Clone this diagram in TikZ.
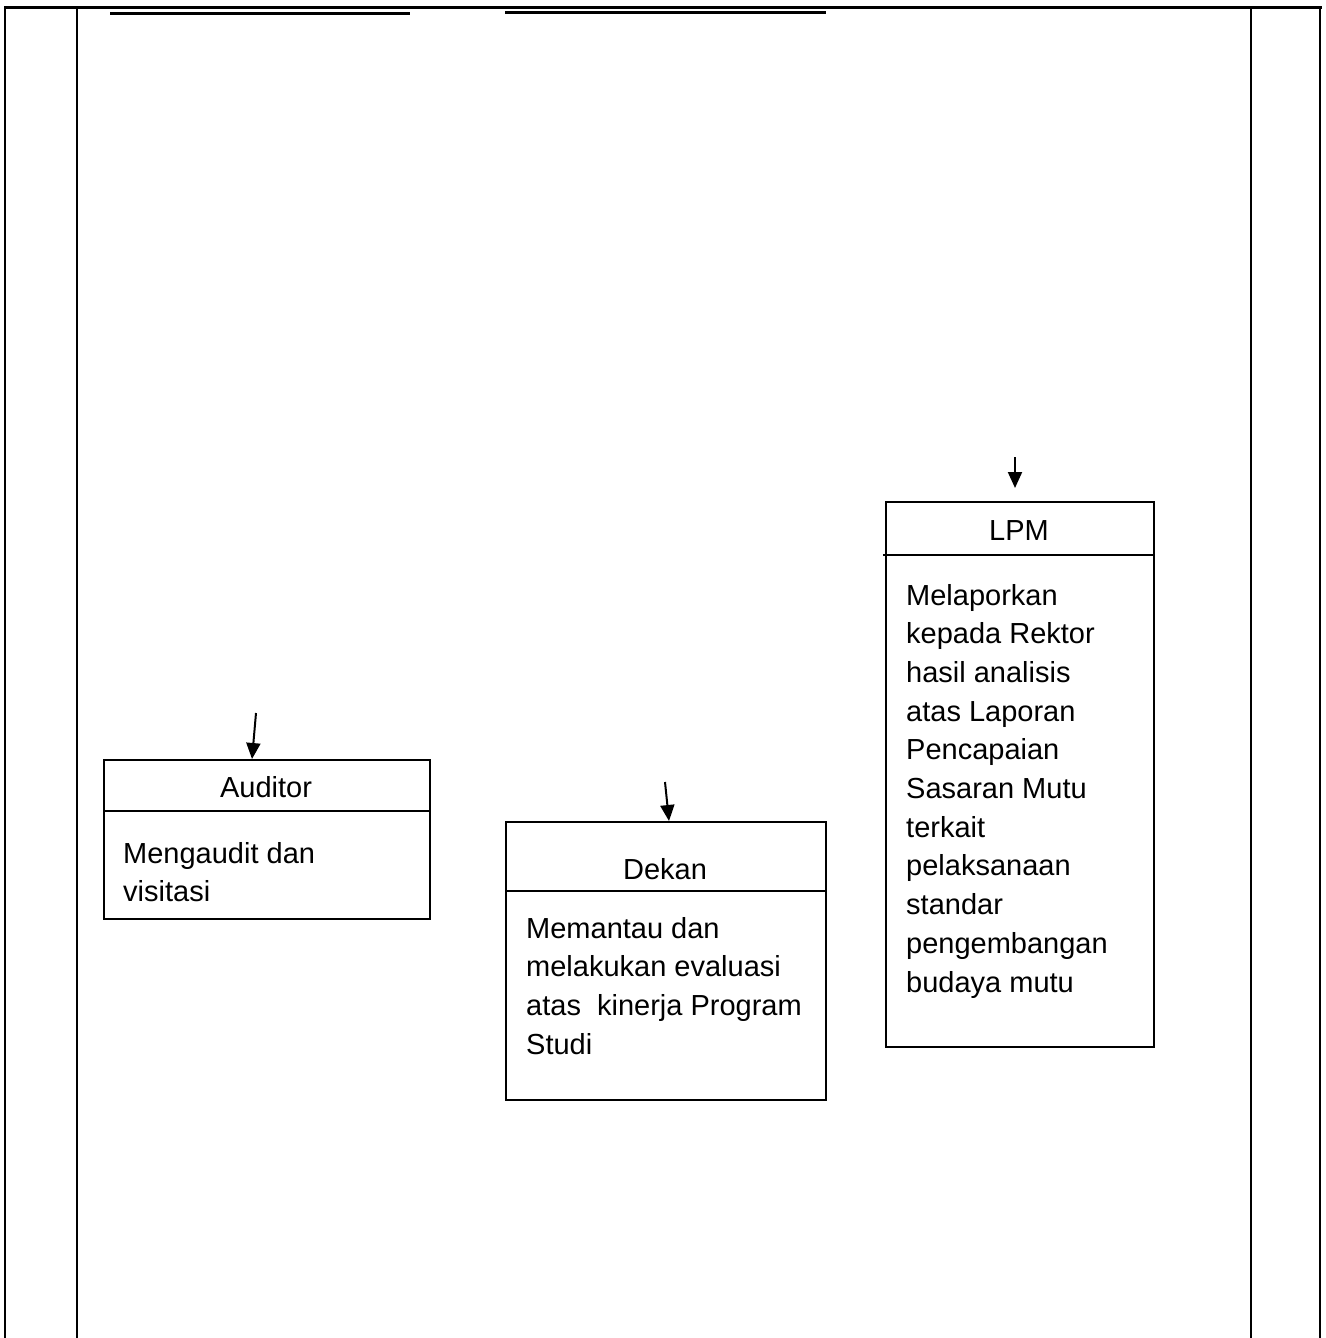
\documentclass[tikz,border=0pt]{standalone}
\usepackage{fontspec}
\setmainfont{Liberation Sans}
\usetikzlibrary{arrows.meta}
\begin{document}
\begin{tikzpicture}[x=1pt,y=-1pt,
  frame/.style={line width=2.2pt,black},
  topline/.style={line width=3pt,black},
  boxshape/.style={draw,line width=1.8pt,rectangle,anchor=north west,inner sep=0pt},
  divider/.style={line width=1.8pt},
  arr/.style={line width=2pt,-{Triangle[width=14pt,length=16pt]}},
  txt/.style={font=\fontsize{29}{38.7}\selectfont,inner sep=0pt},
  body/.style={txt,anchor=base west,align=left}]
\useasboundingbox (0,0) rectangle (1325,1338);
% frame
\coordinate (tl) at (4,8);
\coordinate (tr) at (1322,8);
\draw[topline] (tl) -- (tr);
\foreach \xx in {5,77,1251,1320}{
  \draw[frame] (\xx,8) -- (\xx,1338);
}
\draw[topline] (110,14) -- (410,14);
\draw[topline] (505,13) -- (826,13);
% Auditor
\node[boxshape,minimum width=326pt,minimum height=159pt] (aud) at (103,759) {};
\draw[divider] (aud.west |- 0,811) -- (aud.east |- 0,811);
\node[txt,anchor=base] (audh) at (266,797) {Auditor};
\node[body] (audb) at (123,901.7) {Mengaudit dan\\visitasi};
\coordinate (audin) at (256,713);
\draw[arr] (audin) -- (aud.north -| 252,0);
% Dekan
\node[boxshape,minimum width=320pt,minimum height=278pt] (dek) at (505,821) {};
\draw[divider] (dek.west |- 0,891) -- (dek.east |- 0,891);
\node[txt,anchor=base] (dekh) at (665,879) {Dekan};
\node[body] (dekb) at (526,1054.1) {Memantau dan\\melakukan evaluasi\\atas \ kinerja Program\\Studi};
\coordinate (dekin) at (665,782);
\draw[arr] (dekin) -- (dek.north -| 669,0);
% LPM
\node[boxshape,minimum width=268pt,minimum height=545pt] (lpm) at (885,501) {};
\draw[divider] (883,555) -- (lpm.east |- 0,555);
\node[txt,anchor=base] (lpmh) at (1019,540) {LPM};
\node[body] (lpmb) at (906,992) {Melaporkan\\kepada Rektor\\hasil analisis\\atas Laporan\\Pencapaian\\Sasaran Mutu\\terkait\\pelaksanaan\\standar\\pengembangan\\budaya mutu};
\coordinate (lpmin) at (1015,457);
\coordinate (lpmtip) at (1015,488);
\draw[arr] (lpmin) -- (lpmtip);
\end{tikzpicture}
\end{document}
